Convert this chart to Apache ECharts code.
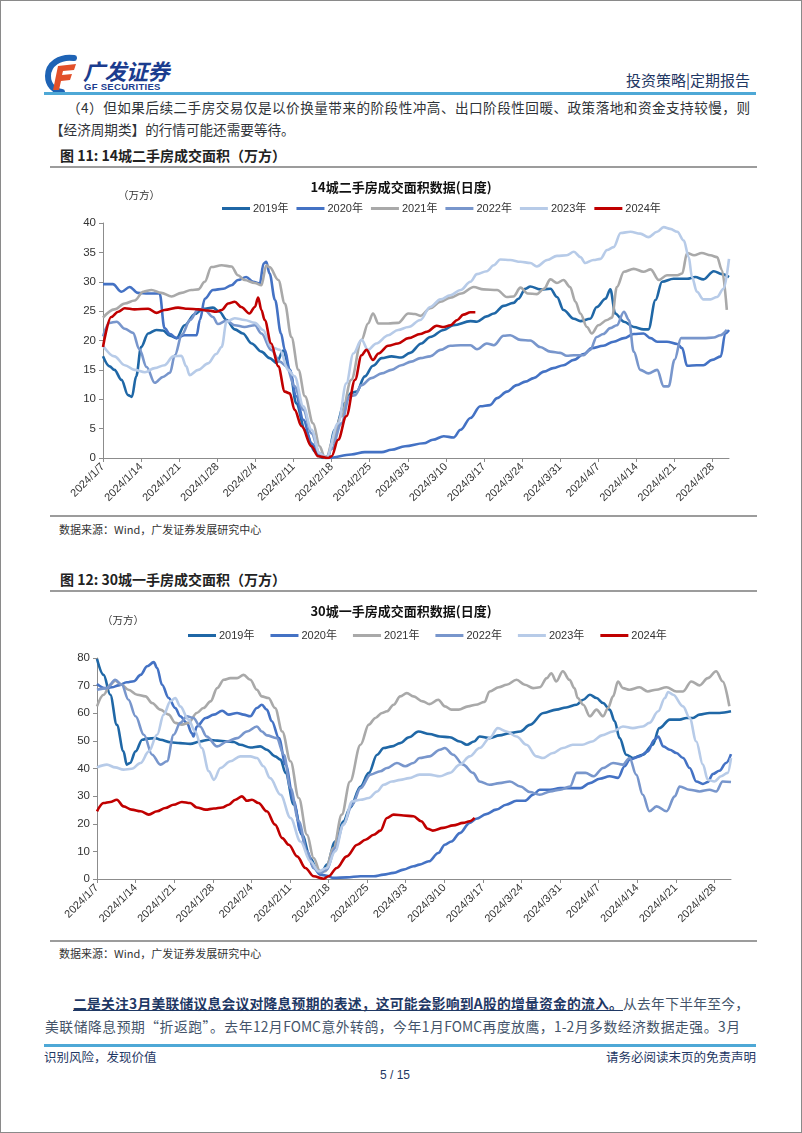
<!DOCTYPE html>
<html>
<head>
<meta charset="utf-8">
<script src="https://cdn.jsdelivr.net/npm/echarts/dist/echarts.min.js"></script>
<style>
  html, body { margin: 0; padding: 0; background: #fff; }
  #page { position: relative; width: 802px; height: 1133px; overflow: hidden; background: #fff;
          font-family: "Noto Sans CJK SC", "Liberation Sans", sans-serif; }
  #border { position: absolute; left: 0; top: 0; width: 802px; height: 1133px; box-sizing: border-box; border: 1px solid #8a8a8a; pointer-events: none; }
  .abs { position: absolute; white-space: nowrap; }
  .hline { position: absolute; }
  .just { text-align: justify; text-align-last: justify; }
  .chart { position: absolute; left: 0; width: 802px; }
</style>
</head>
<body>
<div id="page">
  <!-- header logo -->
  <svg class="abs" style="left:44px;top:54px" width="38" height="40" viewBox="0 0 38 40">
    <path d="M30 4 C16 2 4 10 4 22 C4 31 10 37 18 38" fill="none" stroke="#1E63B5" stroke-width="6" stroke-linecap="round"/>
    <path d="M14 12 L32 10 L30 16 L19 17 L18 21 L28 20 L26 26 L17 27 L15 36 L9 36 Z" fill="#E2502A"/>
  </svg>
  <div class="abs" style="left:83px;top:57px;font-size:22px;line-height:26px;font-weight:bold;font-style:italic;color:#1B3C8E;letter-spacing:-0.5px">广发证券</div>
  <div class="abs" style="left:84px;top:81px;font-size:9.5px;line-height:11px;font-weight:bold;font-family:'Liberation Sans';color:#1B3C8E;letter-spacing:0.3px">GF SECURITIES</div>
  <div class="abs" style="left:626px;top:71px;font-size:15px;line-height:18px;color:#1F3864">投资策略|定期报告</div>
  <div class="hline" style="left:44px;top:92px;width:712px;height:3px;background:#4EA8D6"></div>

  <!-- paragraph -->
  <div class="abs just" style="left:67px;top:97px;width:683px;font-size:13.6px;line-height:20px;color:#2f3338">（4）但如果后续二手房交易仅是以价换量带来的阶段性冲高、出口阶段性回暖、政策落地和资金支持较慢，则</div>
  <div class="abs" style="left:50px;top:119px;font-size:13.6px;line-height:20px;color:#2f3338">【经济周期类】的行情可能还需要等待。</div>

  <!-- figure 11 caption -->
  <div class="abs" style="left:60px;top:145px;font-size:14px;line-height:20px;font-weight:bold;color:#222">图 11: 14城二手房成交面积（万方）</div>
  <div class="hline" style="left:50px;top:166px;width:707px;height:2px;background:#9c9c9c"></div>

  <div id="c1" class="chart" style="top:170px;height:344px"></div>

  <div class="hline" style="left:50px;top:515px;width:707px;height:2px;background:#9c9c9c"></div>
  <div class="abs" style="left:59px;top:521px;font-size:11px;line-height:16px;color:#333">数据来源：Wind，广发证券发展研究中心</div>

  <!-- figure 12 caption -->
  <div class="abs" style="left:60px;top:569px;font-size:14px;line-height:20px;font-weight:bold;color:#222">图 12: 30城一手房成交面积（万方）</div>
  <div class="hline" style="left:50px;top:590px;width:707px;height:2px;background:#9c9c9c"></div>

  <div id="c2" class="chart" style="top:594px;height:346px"></div>

  <div class="hline" style="left:50px;top:940px;width:707px;height:2px;background:#9c9c9c"></div>
  <div class="abs" style="left:59px;top:945px;font-size:11px;line-height:16px;color:#333">数据来源：Wind，广发证券发展研究中心</div>

  <!-- body paragraph -->
  <div class="abs just" style="left:73px;top:993px;width:676px;font-size:13.8px;line-height:20px;color:#44546A"><span style="font-weight:bold;color:#1F3864;text-decoration:underline">二是关注3月美联储议息会议对降息预期的表述，这可能会影响到A股的增量资金的流入。</span>从去年下半年至今，</div>
  <div class="abs just" style="left:45px;top:1016px;width:695px;font-size:13.8px;line-height:20px;color:#44546A">美联储降息预期“折返跑”。去年12月FOMC意外转鸽，今年1月FOMC再度放鹰，1-2月多数经济数据走强。3月</div>

  <!-- footer -->
  <div class="hline" style="left:44px;top:1044px;width:712px;height:3px;background:#4EA8D6"></div>
  <div class="abs" style="left:44px;top:1048px;font-size:12.5px;line-height:17px;color:#1F3864">识别风险，发现价值</div>
  <div class="abs" style="right:46px;top:1048px;font-size:12.5px;line-height:17px;color:#1F3864">请务必阅读末页的免责声明</div>
  <div class="abs" style="left:0;width:790px;text-align:center;top:1067px;font-size:12px;line-height:16px;color:#1F3864;font-family:'Liberation Sans'">5 / 15</div>

  <div id="border"></div>
</div>

<script>
// ---------- data ----------
const tickLabels = ['2024/1/7','2024/1/14','2024/1/21','2024/1/28','2024/2/4','2024/2/11','2024/2/18','2024/2/25','2024/3/3','2024/3/10','2024/3/17','2024/3/24','2024/3/31','2024/4/7','2024/4/14','2024/4/21','2024/4/28'];
const yearNames = ['2019年','2020年','2021年','2022年','2023年','2024年'];

// Chart 1: 14城二手房成交面积 [day index from 2024/1/7, value]
const c1_2019 = [[0,17.3],[1.2,15.6],[2.1,15.0],[3.4,13.3],[4.6,10.7],[5.3,10.4],[6.1,13.9],[7,18.9],[8.3,21.2],[9.8,21.8],[11,21.7],[12.3,20.8],[13.5,20.4],[15,22.6],[16.9,24.5],[18.4,25.4],[20.2,25.6],[21.4,24.9],[22.7,23.5],[24.2,21.9],[25.7,21.2],[27.3,19.5],[29.1,18.1],[30.6,17.0],[31.9,16.2],[33.1,18.3],[34.3,15.0],[35.5,9.3],[37.1,4.8],[38.9,1.1],[40.4,0],[41.2,0],[42.6,4.8],[44.4,9.3],[45.6,11.1],[46.6,11.3],[48.1,13.9],[49.6,15.7],[51.2,17.0],[53,17.3],[54.8,17.1],[56.4,17.9],[58.5,19.5],[60.1,20.6],[62.6,21.8],[64.4,22.6],[67.5,23.3],[68.7,23.2],[70.5,24.1],[71.8,24.6],[73.6,25.9],[75.4,26.4],[76.3,27.1],[77.6,28.8],[78.5,29.2],[80.3,28.7],[82.2,28.8],[83.4,27.4],[84.6,25.2],[86.5,23.7],[87.7,23.3],[89.5,23.7],[90.7,25.7],[92.3,27.1],[93.2,28.7],[94.1,24.6],[95.7,23.2],[97.5,22.3],[99.3,21.9],[100.2,21.9],[101.5,26.9],[102.7,30.0],[104.8,30.5],[107.3,30.5],[108.8,30.8],[110.3,30.4],[112.2,31.8],[113.7,31.3],[115,30.8]];
const c1_2020 = [[0,29.6],[1.8,29.6],[3.4,28.3],[4.9,29.1],[6.4,28.1],[8.3,28.0],[10.4,28.0],[11.3,22.1],[12.3,21.1],[13.5,20.4],[15,20.9],[17.2,20.9],[17.8,23.5],[18.7,27.1],[20.2,28.6],[22.1,28.8],[23.6,29.4],[24.8,30.3],[26.3,30.8],[27.6,30.0],[28.8,29.7],[29.5,33.1],[30,33.4],[30.6,31.4],[31.6,26.9],[32.7,21.2],[33.4,18.4],[34.3,15.0],[35.5,10.5],[36.8,6.5],[38.3,2.5],[39.8,0.3],[41.4,0],[45.6,0.6],[48.1,1.0],[51.2,1.0],[53,1.4],[55.5,2.0],[58.9,2.5],[60.6,3.1],[62.6,3.7],[64.4,3.5],[65.7,4.8],[67.5,6.8],[69.3,8.8],[71.1,9.0],[72.4,10.2],[74.2,11.3],[76,12.4],[77.6,13.0],[79.1,13.6],[81,14.7],[82.7,15.3],[84.6,15.8],[86.5,16.7],[88.3,17.7],[89.8,18.7],[91.9,19.1],[93.8,19.8],[95.7,20.4],[97.5,21.1],[99.3,21.2],[100.6,20.4],[101.8,19.8],[103.6,19.8],[105.5,19.4],[106.4,18.7],[107.3,15.7],[109.1,15.8],[110.3,15.8],[111.9,16.7],[113.5,17.3],[114.3,21.2],[115,21.8]];
const c1_2021 = [[0,23.9],[2.1,25.3],[4,26.3],[5.8,26.8],[7.4,28.3],[8.9,28.6],[10.7,28.1],[12.6,27.5],[14.4,28.1],[16.2,28.6],[17.5,28.7],[18.7,30.0],[19.9,32.5],[21.8,32.8],[23.6,32.6],[24.8,31.1],[26,30.3],[27.9,29.8],[29.1,29.4],[30,32.8],[30.6,32.5],[32.2,30.3],[33.4,26.3],[34.6,20.6],[35.9,15.0],[37.1,10.5],[38.6,5.9],[39.8,2.0],[40.7,0.2],[41.2,0.3],[42,2.5],[43.8,7.1],[45.6,13.3],[47.5,20.1],[48.7,22.9],[49.6,24.6],[50.6,22.9],[52.4,22.9],[54.2,23.0],[56.1,24.6],[57.3,24.5],[58.3,24.2],[60.1,25.5],[62,26.6],[63.8,27.3],[65.8,28.0],[68.1,29.1],[69.9,28.7],[72.4,28.6],[74.2,27.4],[75.4,27.5],[76.7,29.0],[78,28.0],[79.7,27.9],[81,28.8],[82.2,30.4],[83.4,29.8],[84.6,30.3],[85.8,29.1],[86.8,26.6],[87.7,24.6],[88.9,22.3],[89.8,21.2],[91,22.6],[92.6,23.5],[93.5,23.9],[94.4,29.1],[95.7,31.7],[97.5,32.2],[99.3,31.7],[100.6,32.1],[102.1,30.3],[103.6,31.1],[105.5,31.1],[106.4,31.4],[107.3,34.9],[108.6,34.5],[110,34.9],[111.6,34.5],[112.8,34.2],[113.7,32.0],[114.6,25.2]];
const c1_2022 = [[0,20.7],[1.2,23.0],[2.5,23.2],[4,22.0],[5.5,21.3],[6.7,18.5],[8,15.5],[9.5,12.8],[11,13.8],[12.3,14.5],[13.2,17.5],[14.5,21.0],[16,23.5],[17.5,25.3],[18.7,25.2],[20.2,24.0],[21.1,22.8],[22.7,23.4],[24.2,22.6],[26,22.3],[27.9,22.6],[29.1,21.2],[30.9,18.4],[32.5,16.4],[33.7,15.6],[35.2,12.2],[36.8,8.2],[38.3,4.2],[39.8,0.8],[41,0],[42,1.5],[43.8,5.9],[45.3,10.5],[46.3,10.7],[47.5,12.4],[49.3,13.6],[51.2,14.4],[53,15.0],[54.8,15.8],[56.6,16.4],[58.3,17.0],[60.1,17.3],[62,18.4],[63.8,19.1],[65.7,19.2],[67.5,19.2],[68.7,18.5],[70.5,19.5],[71.8,19.2],[73.6,20.8],[74.8,20.9],[76.7,20.1],[78.5,20.0],[80.3,18.9],[82.2,18.1],[84,17.9],[85.2,17.4],[86.5,17.5],[88.3,17.5],[89.5,18.4],[90.7,20.6],[91.9,21.1],[93.2,22.1],[94.4,22.6],[95.7,24.9],[96.6,23.5],[97.5,18.1],[98.7,15.0],[100.2,14.4],[101.8,15.0],[103,12.2],[103.9,12.2],[105,16.7],[106.2,20.4],[108.6,20.4],[110.3,20.4],[112.2,20.5],[113.4,20.9],[114.6,21.8]];
const c1_2023 = [[0,19.1],[2.1,17.3],[4,15.8],[5.8,15.0],[7.7,14.6],[9.5,15.3],[11.3,15.8],[12.9,17.3],[14.4,17.4],[15.3,15.6],[15.9,14.1],[17.5,15.0],[19.3,16.1],[20.8,17.7],[21.8,18.9],[22.7,23.2],[24.2,23.8],[26,23.5],[27.9,23.0],[29.4,21.8],[30.9,18.9],[32.5,18.4],[34,15.0],[35.2,13.9],[36.8,8.8],[38.3,4.8],[39.8,0.8],[41,0],[43.2,5.9],[44.7,12.7],[46,17.8],[47.5,20.1],[48.7,18.4],[50.2,19.5],[52.4,20.9],[54.2,21.8],[56.1,22.3],[58.3,23.5],[60.1,25.7],[62,27.0],[63.8,27.7],[65.7,28.6],[67.5,30.0],[68.7,31.3],[70.5,31.8],[71.8,32.8],[73,33.8],[74.8,33.7],[76.7,33.4],[78.5,33.2],[79.7,32.6],[81.6,33.7],[83.4,34.4],[85.2,34.5],[86.5,35.1],[87.7,34.2],[88.6,33.2],[90.1,33.7],[91.4,33.9],[92.6,35.4],[93.8,35.9],[95.1,38.3],[96.9,38.5],[98.7,38.2],[100.2,37.6],[101.8,38.5],[103,39.3],[104.2,39.0],[105.5,38.5],[106.7,37.0],[107.6,34.2],[108.2,30.8],[109.1,28.3],[110.3,27.0],[111.6,27.0],[112.8,27.4],[114,28.8],[115,33.9]];
const c1_2024 = [[0,18.9],[1.5,24.0],[2.8,24.9],[4,25.5],[5.8,25.3],[8.3,25.4],[9.8,24.7],[11.3,25.2],[13.8,25.6],[15.6,25.4],[17.5,25.3],[19.3,25.1],[20.8,24.9],[21.8,25.2],[23,26.3],[24.2,26.6],[25.4,25.7],[26.9,24.6],[27.9,25.7],[28.5,27.3],[29.1,25.2],[29.7,23.5],[30.9,19.5],[32.2,15.6],[33.4,11.3],[34.3,11.0],[35.2,8.2],[36.5,5.4],[38.3,2.0],[39.5,0.3],[41.4,0],[42,0.3],[43.2,3.1],[44.7,7.1],[46.3,13.3],[47.5,17.5],[48.4,18.4],[49.6,16.7],[50.6,17.8],[52.4,19.1],[54.2,19.5],[56.1,20.4],[58.3,21.1],[59.5,21.5],[61.3,22.5],[62.6,22.3],[63.8,22.6],[65.1,23.5],[66.2,24.4],[67.5,24.8],[68.4,24.8]];

// Chart 2: 30城一手房成交面积
const c2_2019 = [[0,79.7],[1.2,73.9],[2.4,66.7],[3.6,55.8],[4.8,46.2],[5.4,41.4],[6,42.0],[7,46.2],[8.2,50.4],[9.1,50.8],[10.6,51.0],[11.5,50.4],[13.3,49.5],[15.1,49.2],[16.9,48.9],[18.7,49.8],[20.3,50.4],[21.8,50.1],[23.6,49.8],[24.8,49.6],[26,48.6],[27.8,47.6],[29.6,48.0],[30.8,46.8],[32.3,44.4],[33.3,43.2],[34.2,38.4],[35.7,26.9],[37.2,16.0],[38.7,7.6],[39.9,3.4],[40.8,2.5],[41.7,5.2],[43.2,13.6],[44.7,20.9],[45.9,25.7],[47.8,33.5],[49.3,38.4],[50.8,45.0],[52,47.4],[53.5,48.0],[55,49.2],[56.6,51.3],[58.3,53.4],[60.3,52.5],[62.2,51.6],[64,51.3],[65.8,49.8],[67.1,48.6],[68.4,49.8],[69.4,51.6],[71.2,51.0],[73,52.0],[74.9,52.8],[76.8,53.4],[78.5,55.8],[81,60.1],[83.3,61.3],[85.1,62.1],[87,63.1],[88.2,64.9],[89.4,66.7],[90.6,65.5],[91.8,63.7],[93,61.3],[93.9,57.1],[94.8,51.0],[96,45.0],[97.2,43.8],[99,45.0],[100.8,48.6],[102,54.6],[103.9,57.7],[105.7,57.7],[106.9,58.3],[108.1,58.3],[109.3,59.5],[111.1,60.1],[112.9,60.1],[115,60.7]];
const c2_2020 = [[0,70.6],[1.5,69.1],[2.7,69.4],[3.9,70.1],[5.4,71.2],[6.7,71.6],[7.9,73.9],[9.1,77.0],[10.3,78.5],[10.9,76.4],[11.8,70.3],[13,65.5],[14.2,61.9],[15.1,58.9],[16.3,56.5],[17.2,52.8],[17.5,51.6],[18.1,55.2],[19.7,58.3],[21.2,59.5],[22.7,60.9],[23.9,59.5],[25.4,60.1],[26.6,59.5],[27.8,58.9],[29,61.9],[29.9,63.1],[30.8,61.3],[31.7,57.1],[33,51.0],[34.2,41.4],[35.7,28.1],[36.9,17.2],[38.1,10.0],[39.3,4.0],[40.5,1.6],[41.7,1.2],[42.9,0.4],[45.3,0.6],[47.8,1.0],[50.2,1.0],[52,1.6],[53.8,2.2],[55.6,3.4],[57.4,4.6],[58.5,5.2],[60.2,6.4],[61.9,9.4],[63.1,12.4],[64.3,13.6],[65.8,16.6],[67.6,20.3],[68.8,21.8],[70.6,23.5],[72.4,25.1],[74.2,26.9],[76.1,28.3],[77.6,28.3],[79.1,30.5],[80.3,32.3],[82.2,32.3],[84,32.9],[85.8,32.9],[87.7,32.9],[89.4,34.7],[91.2,36.3],[93,37.2],[94.5,36.6],[95.7,40.8],[96.6,43.2],[98.4,44.4],[99.9,46.2],[101.1,50.4],[101.8,51.6],[102.7,48.0],[103.9,46.8],[105.1,45.6],[106.3,43.8],[107.5,40.2],[108.7,35.3],[109.9,34.4],[110.8,35.1],[111.7,38.0],[112.9,39.2],[114.1,42.0],[115,45.2]];
const c2_2021 = [[0,62.5],[1.2,66.7],[2.4,70.3],[3.3,71.8],[4.5,70.3],[5.7,68.5],[7.3,66.7],[8.8,66.1],[10,63.7],[11.5,61.3],[13,59.5],[14.2,56.5],[15.4,55.9],[16.6,56.5],[18.1,60.1],[19.3,61.9],[20.6,64.3],[21.8,69.1],[23,72.1],[24.2,72.7],[25.4,72.7],[26.6,73.9],[27.8,72.1],[29,68.5],[29.9,66.1],[31.1,65.5],[32.3,61.9],[33.6,53.4],[35.1,42.6],[36.6,29.3],[38.1,16.0],[39.3,7.6],[40.5,2.5],[41.4,2.8],[42.9,11.2],[44.4,23.3],[45.9,35.3],[47.8,48.6],[49.3,55.9],[50.5,58.3],[51.7,60.1],[52.6,60.7],[53.8,63.1],[55,66.1],[56.2,67.3],[57.4,66.1],[59.1,64.3],[60.3,63.3],[61.9,64.9],[63.1,62.5],[64.3,61.3],[65.6,61.3],[67.3,62.5],[68.7,63.1],[70.3,64.1],[71.2,67.9],[72.9,69.4],[74.3,70.3],[76.1,72.1],[77.6,70.3],[79.1,69.1],[80.3,69.4],[81.6,72.7],[82.4,74.5],[83.3,71.5],[84.5,75.2],[85.7,72.1],[86.6,69.1],[87.2,65.5],[88.2,63.1],[89.4,58.9],[90.6,61.3],[91.8,58.9],[92.7,61.9],[93.6,66.1],[94.5,71.5],[95.4,69.1],[96.6,68.5],[98.4,69.4],[99.9,67.9],[101.4,68.5],[103.3,69.4],[105.1,67.9],[106.3,67.9],[107.8,71.5],[109.3,70.1],[110.8,72.7],[112.3,75.2],[113.5,71.5],[114.7,62.5]];
const c2_2022 = [[0,68.5],[1.8,69.1],[3.3,72.1],[4.5,70.3],[5.7,64.9],[7,58.9],[8.5,52.2],[10,45.0],[11.5,41.4],[12.7,42.6],[13.9,52.2],[15.1,56.5],[16.3,58.9],[17.5,58.3],[18.7,55.2],[19.9,51.6],[21.8,48.0],[23.6,49.8],[25.4,51.0],[27.2,53.4],[29,55.2],[29.9,53.4],[30.8,52.0],[32.6,51.0],[33.9,45.0],[35.1,32.9],[36.6,20.9],[38.1,10.0],[39.3,4.0],[40.5,2.2],[41.7,3.4],[43.2,11.2],[44.7,19.7],[46.3,26.9],[47.8,32.9],[49.6,37.8],[51.4,39.0],[52.6,40.2],[54.4,42.0],[55.9,40.8],[57.4,42.0],[58.5,43.8],[60.3,44.4],[62.2,46.8],[63.1,47.4],[64.6,45.0],[66.4,41.4],[68.2,38.4],[69.4,35.3],[71.2,34.1],[73,34.7],[74.9,35.3],[76.8,33.5],[78.5,31.5],[80.3,30.5],[82.2,31.7],[84,32.3],[85.8,33.5],[87,38.4],[88.6,38.4],[90.1,37.2],[91.8,40.2],[93.6,42.0],[95.4,41.4],[96.6,43.8],[97.8,37.8],[99,30.5],[100.2,24.5],[101.5,26.3],[103.3,24.5],[104.8,29.9],[105.7,33.5],[107.5,32.3],[109.3,31.7],[111.1,32.3],[112.3,31.7],[113.5,35.3],[115,35.1]];
const c2_2023 = [[0,40.4],[1.8,41.4],[3.3,40.4],[4.8,39.6],[6.3,39.9],[7.9,42.0],[9.4,46.2],[10.9,52.2],[12.1,59.5],[13.3,64.3],[14.2,65.5],[15.1,62.5],[16.6,57.7],[17.8,53.4],[19,47.4],[20.3,39.0],[21.2,35.9],[22.4,40.2],[24.2,42.6],[26,44.4],[27.8,44.4],[29,43.8],[30.2,40.8],[31.4,36.5],[33.3,30.5],[35.1,22.1],[36.9,13.6],[38.7,6.4],[40.2,2.8],[41.7,4.0],[43.2,10.0],[44.7,19.7],[46.3,28.1],[47.8,28.7],[49.3,29.3],[50.8,31.7],[52,34.1],[53.5,35.3],[55,35.9],[56.6,36.5],[58.5,37.8],[60.3,37.8],[62.2,37.2],[64,38.4],[65.8,41.4],[67.6,44.4],[69.4,47.4],[71.2,51.0],[72.7,54.6],[74.3,53.4],[76.1,51.6],[77.9,48.6],[79.7,44.4],[80.9,43.8],[82.7,45.6],[84.5,47.4],[86.3,48.6],[88,48.6],[89.8,49.8],[91.6,52.0],[93.6,53.4],[95.4,55.2],[97.2,54.6],[99,55.2],[100.2,56.5],[101.8,60.7],[103,65.5],[103.6,67.7],[104.5,66.7],[106.3,62.5],[107.5,58.3],[108.7,49.8],[109.9,41.4],[110.8,35.9],[112,35.3],[113.2,37.2],[114.4,38.4],[115,43.8]];
const c2_2024 = [[0,24.5],[1.2,27.5],[2.4,27.9],[3.6,28.7],[4.8,26.3],[6.3,25.1],[7.9,24.5],[9.4,23.3],[10.9,24.5],[12.4,25.7],[13.9,26.9],[15.4,27.9],[16.9,27.5],[18.1,25.9],[19.7,25.1],[21.2,25.5],[22.7,25.9],[23.9,26.9],[25.1,28.7],[26.3,29.9],[27.2,28.3],[28.1,28.7],[29.3,27.5],[30.8,24.5],[32.3,19.7],[33.6,14.8],[34.8,12.4],[36.3,8.2],[37.8,4.0],[39.3,1.0],[41.1,0.1],[42,1.0],[43.5,4.0],[45.3,8.2],[47.2,12.4],[48.7,14.2],[50.2,16.0],[51.4,17.5],[52.6,22.1],[53.8,23.3],[55.6,23.0],[57.4,22.7],[58.8,20.9],[60,18.2],[60.9,17.5],[62.8,18.5],[64.6,19.4],[66.4,20.3],[67.6,20.9],[68.5,22.1]];

// ---------- styling ----------
const lineColors = ['#1F67A6', '#4472C4', '#A9A9A9', '#7896CC', '#B7CBE8', '#C00000'];
const axisColor = '#8c8c8c';
const labelFont = "'Liberation Sans', 'Noto Sans CJK SC', sans-serif";

function buildOption(cfg) {
  const series = cfg.data.map((d, i) => ({
    name: yearNames[i], type: 'line', data: d, showSymbol: false, smooth: 0.35,
    smoothMonotone: 'x', lineStyle: { width: 2.6, color: lineColors[i] },
    itemStyle: { color: lineColors[i] }, z: 2 + i
  }));
  return {
    animation: false,
    backgroundColor: 'transparent',
    title: {
      text: cfg.title, left: 'center', top: 11, padding: 0,
      textStyle: { fontSize: 13, fontWeight: 'bold', color: '#111', fontFamily: "'Noto Sans CJK SC', sans-serif" }
    },
    graphic: [{
      type: 'text', left: cfg.unitX, top: cfg.unitY,
      style: { text: '（万方）', fontSize: 10.5, fill: '#333', fontFamily: "'Noto Sans CJK SC', sans-serif" }
    }],
    legend: {
      data: yearNames, left: cfg.legendLeft, top: cfg.legendTop, padding: 0,
      itemWidth: 28, itemHeight: 3, itemGap: cfg.legendGap, icon: 'rect',
      textStyle: { fontSize: 11, color: '#333', fontFamily: labelFont, padding: [0, 0, 0, -2] }
    },
    grid: { left: cfg.grid.left, top: cfg.grid.top, width: cfg.grid.width, height: cfg.grid.height, containLabel: false },
    xAxis: {
      type: 'value', min: 0, max: 115, interval: 7,
      axisLine: { show: true, onZero: false, lineStyle: { color: axisColor, width: 1 } },
      axisTick: { show: true, length: 4, lineStyle: { color: axisColor } },
      splitLine: { show: false },
      axisLabel: {
        rotate: 45, margin: 7, fontSize: 11, color: '#333', fontFamily: labelFont,
        showMaxLabel: false,
        formatter: v => (v % 7 === 0 && tickLabels[v / 7] !== undefined) ? tickLabels[v / 7] : ''
      }
    },
    yAxis: {
      type: 'value', min: 0, max: cfg.yMax, interval: cfg.yInterval,
      axisLine: { show: true, lineStyle: { color: axisColor, width: 1 } },
      axisTick: { show: true, length: 4, lineStyle: { color: axisColor } },
      splitLine: { show: false },
      axisLabel: { fontSize: 11.5, color: '#333', fontFamily: labelFont, margin: 7 }
    },
    series
  };
}

const chart1 = echarts.init(document.getElementById('c1'), null, { renderer: 'canvas' });
chart1.setOption(buildOption({
  title: '14城二手房成交面积数据(日度)',
  unitX: 118, unitY: 20,
  legendLeft: 222, legendTop: 33, legendGap: 8,
  grid: { left: 103, top: 53, width: 626, height: 235 },
  yMax: 40, yInterval: 5,
  data: [c1_2019, c1_2020, c1_2021, c1_2022, c1_2023, c1_2024]
}));

const chart2 = echarts.init(document.getElementById('c2'), null, { renderer: 'canvas' });
chart2.setOption(buildOption({
  title: '30城一手房成交面积数据(日度)',
  unitX: 102, unitY: 21,
  legendLeft: 188, legendTop: 36, legendGap: 16,
  grid: { left: 97, top: 64, width: 634, height: 221 },
  yMax: 80, yInterval: 10,
  data: [c2_2019, c2_2020, c2_2021, c2_2022, c2_2023, c2_2024]
}));
</script>
</body>
</html>
